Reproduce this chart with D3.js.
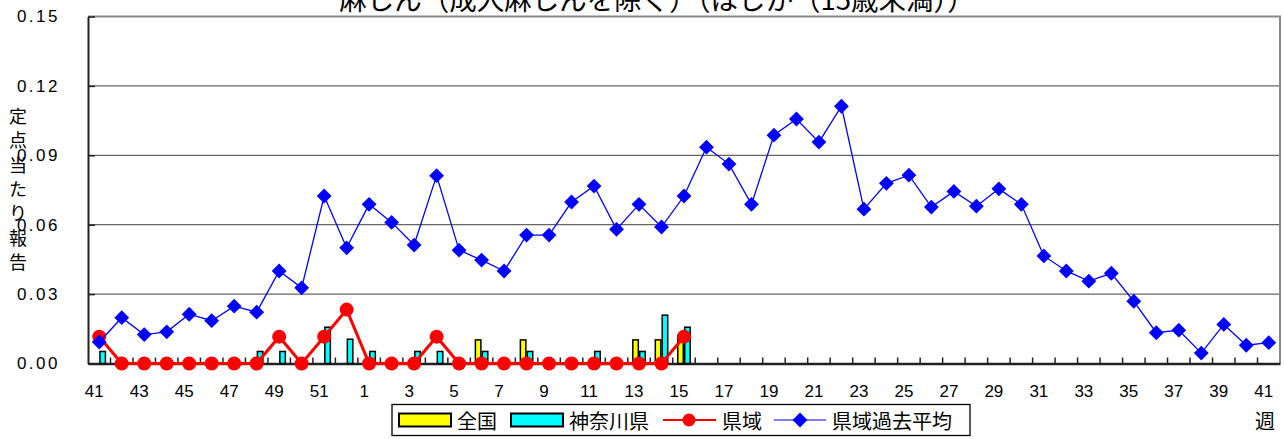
<!DOCTYPE html>
<html><head><meta charset="utf-8">
<script src="https://cdn.jsdelivr.net/npm/d3@7"></script>
<style>
body{margin:0;background:#fff;}
svg{display:block;}
.num{font-family:"Liberation Sans",Arial,sans-serif;}
.jp{font-family:"Noto Sans CJK JP","Noto Sans",sans-serif;}
</style></head>
<body><svg id="c" width="1284" height="439"></svg>
<script>
const title = "麻しん（成人麻しんを除く）（はしか（15歳未満））";
const yTitle = "定点当たり報告";
const weeks = [41,42,43,44,45,46,47,48,49,50,51,52,1,2,3,4,5,6,7,8,9,10,11,12,13,14,15,16,17,18,19,20,21,22,23,24,25,26,27,28,29,30,31,32,33,34,35,36,37,38,39,40,41];
const yTicks = [0,0.03,0.06,0.09,0.12,0.15];
const seriesNames = ["全国","神奈川県","県域","県域過去平均"];
// 全国 (national)
const national = [0,0,0,0,0,0,0,0,0,0,0,0,0,0,0,0,0,0.0102,0,0.0102,0,0,0,0,0.0102,0.0102,0.012,
  null,null,null,null,null,null,null,null,null,null,null,null,null,null,null,null,null,null,null,null,null,null,null,null,null,null];
// 神奈川県 (prefecture)
const kanagawa = [0.0052,0,0,0,0,0,0,0.0052,0.0052,0,0.0157,0.0105,0.0052,0,0.0052,0.0052,0,0.0052,0,0.0052,0,0,0.0052,0,0.0052,0.0209,0.0157,
  null,null,null,null,null,null,null,null,null,null,null,null,null,null,null,null,null,null,null,null,null,null,null,null,null,null];
// 県域 (region)
const region = [0.0116,0,0,0,0,0,0,0,0.0116,0,0.0116,0.0233,0,0,0,0.0116,0,0,0,0,0,0,0,0,0,0,0.0116,
  null,null,null,null,null,null,null,null,null,null,null,null,null,null,null,null,null,null,null,null,null,null,null,null,null,null];
// 県域過去平均 (past average)
const pastAvg = [0.0093,0.0198,0.0125,0.0137,0.0213,0.0185,0.0248,0.0222,0.0400,0.0327,0.0724,0.0500,0.0688,0.0610,0.0512,0.0812,0.0490,0.0447,0.0400,0.0555,0.0555,0.0698,0.0767,0.0580,0.0688,0.0590,0.0724,
  0.0935,0.0862,0.0688,0.0987,0.1057,0.0957,0.1112,0.0667,0.0779,0.0814,0.0676,0.0744,0.0680,0.0755,0.0688,0.0465,0.0400,0.0356,0.0390,0.0269,0.0133,0.0144,0.0045,0.0169,0.0079,0.0090];

const svg = d3.select("#c");
const L=88, R=1280, T=16.5, B=363.5;
const idx = weeks.map((d,i)=>i);
const x = d3.scaleBand().domain(idx).range([L,R]).paddingInner(0).paddingOuter(0);
const y = d3.scaleLinear().domain([0,0.15]).range([B,T]);
const cx = i => x(i)+x.bandwidth()/2;

// gridlines
svg.append("g").selectAll("line").data(yTicks.slice(1,-1)).join("line")
  .attr("x1",L).attr("x2",R).attr("y1",d=>y(d)).attr("y2",d=>y(d))
  .attr("stroke","#666").attr("stroke-width",1.2);
// plot border (top/right)
svg.append("path").attr("d",`M${L},${T}H${R}V${B}`).attr("fill","none").attr("stroke","#888").attr("stroke-width",2);

// y axis
const yAxis = d3.axisLeft(y).tickValues(yTicks).tickFormat(d3.format(".2f")).tickSizeInner(-7).tickSizeOuter(0).tickPadding(28);
const gy = svg.append("g").attr("transform",`translate(${L},0)`).call(yAxis);
gy.select(".domain").attr("stroke","#222").attr("stroke-width",2);
gy.selectAll(".tick line").attr("stroke","#222").attr("stroke-width",1.5);
gy.selectAll("text").attr("class","num").attr("font-size",17).attr("fill","#000").attr("letter-spacing","2.5px");

// x axis
const xAxis = d3.axisBottom(x).tickFormat(i=> i%2===0 ? weeks[i] : "").tickSizeInner(0).tickSizeOuter(0).tickPadding(21);
const gx = svg.append("g").attr("transform",`translate(0,${B})`).call(xAxis);
gx.select(".domain").attr("stroke","#222").attr("stroke-width",2.5);
gx.selectAll("text").attr("class","num").attr("font-size",17).attr("fill","#000").attr("dx",-5);
// boundary ticks (inside)
svg.append("g").selectAll("line").data(d3.range(1,weeks.length)).join("line")
  .attr("x1",i=>x(i)).attr("x2",i=>x(i)).attr("y1",B).attr("y2",B-6)
  .attr("stroke","#222").attr("stroke-width",1.5);

// bars
const bw = 5.5;
svg.append("g").selectAll("rect").data(national.map((v,i)=>({v,i})).filter(d=>d.v>0)).join("rect")
  .attr("x",d=>cx(d.i)-bw-0.7).attr("width",bw).attr("y",d=>y(d.v)).attr("height",d=>B-y(d.v))
  .attr("fill","#ffff00").attr("stroke","#000").attr("stroke-width",1.5);
svg.append("g").selectAll("rect").data(kanagawa.map((v,i)=>({v,i})).filter(d=>d.v>0)).join("rect")
  .attr("x",d=>cx(d.i)+0.7).attr("width",bw).attr("y",d=>y(d.v)).attr("height",d=>B-y(d.v))
  .attr("fill","#00ffff").attr("stroke","#000").attr("stroke-width",1.5);

// region line
const rData = region.map((v,i)=>({v,i})).filter(d=>d.v!==null);
svg.append("path").datum(rData).attr("d",d3.line().x(d=>cx(d.i)).y(d=>y(d.v)))
  .attr("fill","none").attr("stroke","#ff0000").attr("stroke-width",3);
svg.append("g").selectAll("circle").data(rData).join("circle")
  .attr("cx",d=>cx(d.i)).attr("cy",d=>y(d.v)).attr("r",7).attr("fill","#ff0000");

// past avg line
const pData = pastAvg.map((v,i)=>({v,i}));
svg.append("path").datum(pData).attr("d",d3.line().x(d=>cx(d.i)).y(d=>y(d.v)))
  .attr("fill","none").attr("stroke","#0000ff").attr("stroke-width",1.3);
const dia = d3.symbol().type(d3.symbolSquare).size(110);
svg.append("g").selectAll("path").data(pData).join("path")
  .attr("d",dia).attr("transform",d=>`translate(${cx(d.i)},${y(d.v)}) rotate(45)`).attr("fill","#0000ff");

// title
svg.append("text").attr("class","jp").attr("x",657).attr("y",10).attr("text-anchor","middle")
  .attr("font-size",27.5).attr("fill","#000").text(title);
// y title vertical
svg.append("g").selectAll("text").data(yTitle.split("")).join("text").attr("class","jp")
  .attr("x",18).attr("y",(d,i)=>115+i*24.3).attr("text-anchor","middle").attr("dominant-baseline","central")
  .attr("font-size",18).attr("fill","#000").text(d=>d);
// 週
svg.append("text").attr("class","jp").attr("x",1265).attr("y",429).attr("text-anchor","middle")
  .attr("font-size",20).attr("fill","#000").text("週");

// legend
const lg = svg.append("g");
lg.append("rect").attr("x",392).attr("y",404.5).attr("width",578).attr("height",31).attr("fill","#fff").attr("stroke","#000").attr("stroke-width",1.3);
const ly = 420;
lg.append("rect").attr("x",399).attr("y",413.5).attr("width",52).attr("height",13).attr("fill","#ffff00").attr("stroke","#000").attr("stroke-width",2);
lg.append("rect").attr("x",511).attr("y",413.5).attr("width",52).attr("height",13).attr("fill","#00ffff").attr("stroke","#000").attr("stroke-width",2);
lg.append("line").attr("x1",663).attr("x2",716).attr("y1",ly).attr("y2",ly).attr("stroke","#ff0000").attr("stroke-width",2);
lg.append("circle").attr("cx",689).attr("cy",ly).attr("r",6.5).attr("fill","#ff0000");
lg.append("line").attr("x1",774).attr("x2",826).attr("y1",ly).attr("y2",ly).attr("stroke","#0000ff").attr("stroke-width",1.2);
lg.append("path").attr("d",dia).attr("transform",`translate(800,${ly}) rotate(45)`).attr("fill","#0000ff");
const lt = [[457,seriesNames[0]],[569,seriesNames[1]],[722,seriesNames[2]],[832,seriesNames[3]]];
lg.selectAll("text").data(lt).join("text").attr("class","jp").attr("x",d=>d[0]).attr("y",ly)
  .attr("dominant-baseline","central").attr("font-size",20).attr("fill","#000").text(d=>d[1]);
</script></body></html>
